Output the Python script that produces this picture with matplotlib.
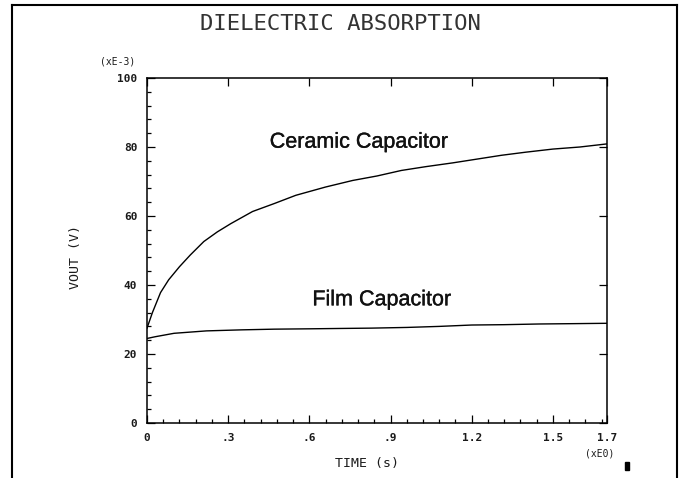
import numpy as np
import matplotlib
matplotlib.use("Agg")
import matplotlib.pyplot as plt
import matplotlib.patheffects as pe
from matplotlib.lines import Line2D
from matplotlib.patches import Rectangle
from matplotlib.ticker import MultipleLocator

# Measured output voltage (in units of 1e-3 V) versus time (s)
ceramic_t = [0.0, 0.02, 0.05, 0.08, 0.12, 0.16, 0.21, 0.26, 0.31, 0.39, 0.47,
             0.55, 0.66, 0.76, 0.85, 0.94, 1.03, 1.13, 1.22, 1.31, 1.40, 1.50,
             1.60, 1.70]
ceramic_v = [27.5, 32.0, 37.8, 41.5, 45.3, 48.7, 52.6, 55.4, 57.8, 61.3, 63.6,
             66.0, 68.4, 70.3, 71.6, 73.2, 74.3, 75.4, 76.5, 77.6, 78.5, 79.4,
             80.0, 80.9]

film_t = [0.0, 0.03, 0.10, 0.22, 0.35, 0.47, 0.60, 0.71, 0.83, 0.96, 1.08,
          1.20, 1.32, 1.45, 1.58, 1.70]
film_v = [24.5, 25.0, 26.0, 26.7, 27.0, 27.2, 27.3, 27.4, 27.5, 27.7, 28.0,
          28.4, 28.5, 28.7, 28.8, 28.9]

x_ticks = [0.0, 0.3, 0.6, 0.9, 1.2, 1.5, 1.7]
x_tick_labels = ["0", ".3", ".6", ".9", "1.2", "1.5", "1.7"]
y_ticks = [0, 20, 40, 60, 80, 100]
y_tick_labels = ["0", "20", "40", "60", "80", "100"]

mono = "DejaVu Sans Mono"
ink = "#1a1a1a"

fig = plt.figure(figsize=(6.8, 4.78), dpi=100)
ax = fig.add_axes([147 / 680, 1 - 423 / 478, 460 / 680, 345 / 478])

ax.plot(ceramic_t, ceramic_v, color="black", lw=1.0)
ax.plot(film_t, film_v, color="black", lw=1.0)

ax.set_xlim(0, 1.7)
ax.set_ylim(0, 100)

ax.set_xticks(x_ticks)
ax.set_xticklabels(x_tick_labels, family=mono, fontsize=8, color=ink,
                   fontweight="bold")
ax.set_yticks(y_ticks)
ax.set_yticklabels(y_tick_labels, family=mono, fontsize=8, color=ink,
                   fontweight="bold")
ax.xaxis.set_minor_locator(MultipleLocator(0.06))
ax.yaxis.set_minor_locator(MultipleLocator(4))

ax.tick_params(which="major", direction="in", length=6, width=0.9,
               top=True, right=True, pad=7, color="black")
ax.tick_params(which="minor", direction="in", length=3, width=0.9,
               top=False, right=False, color="black")
for s in ax.spines.values():
    s.set_linewidth(1.1)
    s.set_color("black")

# Curve annotations
heavy = [pe.withStroke(linewidth=0.25, foreground="#111")]
ax.text(0.782, 81.4, "Ceramic Capacitor", family="Liberation Sans",
        fontsize=15.5, ha="center", va="center", color="#111",
        path_effects=heavy)
ax.text(0.867, 35.7, "Film Capacitor", family="Liberation Sans",
        fontsize=15.5, ha="center", va="center", color="#111",
        path_effects=heavy)

# Titles, axis names and scale multipliers
fig.text(340 / 680, 1 - 24 / 478, "DIELECTRIC ABSORPTION", family=mono,
         fontsize=16, ha="center", va="center", color="#333")
fig.text(118 / 680, 1 - 62 / 478, "(xE-3)", family=mono, fontsize=7,
         ha="center", va="center", color=ink)
fig.text(367 / 680, 1 - 463 / 478, "TIME (s)", family=mono, fontsize=9.5,
         ha="center", va="center", color=ink)
fig.text(75 / 680, 1 - 257 / 478, "VOUT (V)", family=mono, fontsize=9.5,
         ha="center", va="center", rotation=90, color=ink)
fig.text(600 / 680, 1 - 453 / 478, "(xE0)", family=mono, fontsize=7,
         ha="center", va="center", color=ink)

# Pen mark and page border
fig.add_artist(Rectangle((625 / 680, 1 - 470 / 478), 4 / 680, 8 / 478,
                         transform=fig.transFigure, color="black"))
fig.add_artist(Line2D([12 / 680, 12 / 680], [0, 1 - 5 / 478],
                      transform=fig.transFigure, color="black", lw=1.5))
fig.add_artist(Line2D([12 / 680, 677 / 680], [1 - 5 / 478, 1 - 5 / 478],
                      transform=fig.transFigure, color="black", lw=1.5))
fig.add_artist(Line2D([677 / 680, 677 / 680], [0, 1 - 5 / 478],
                      transform=fig.transFigure, color="black", lw=1.5))

fig.savefig("out.png", dpi=100)
